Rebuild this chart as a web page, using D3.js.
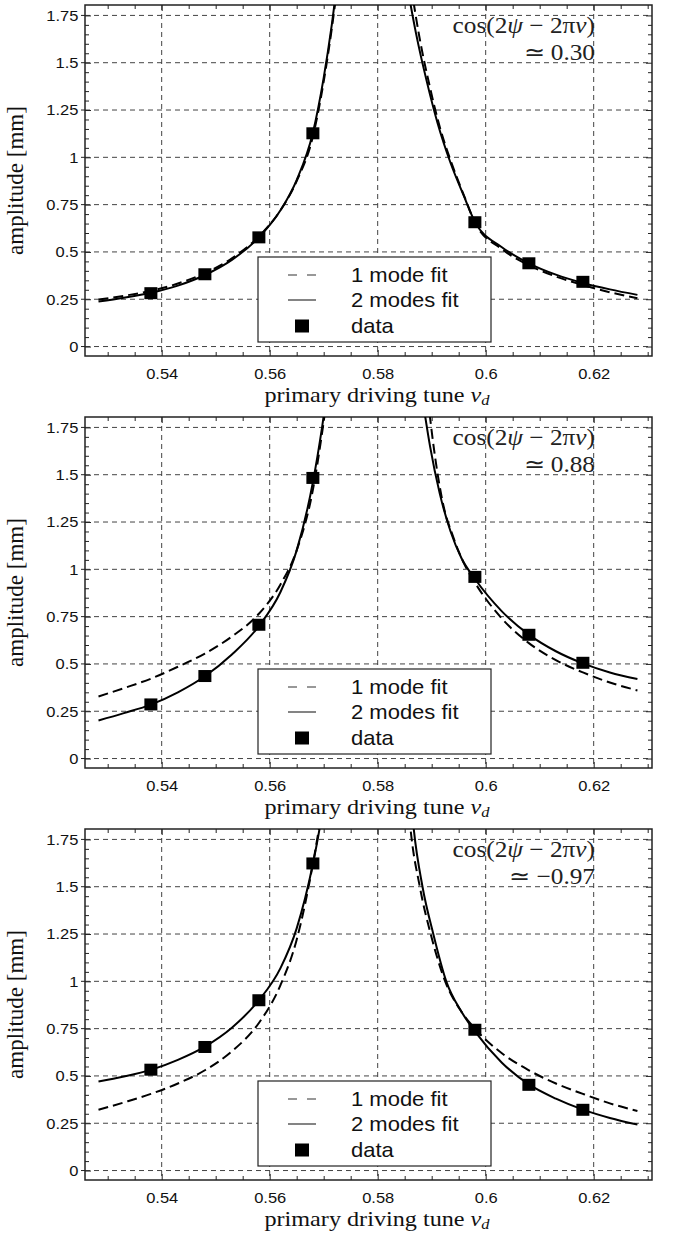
<!DOCTYPE html>
<html>
<head>
<meta charset="utf-8">
<script src="https://cdn.jsdelivr.net/npm/d3@7"></script>
<style>
  body { margin: 0; background: #fff; }
  svg { display: block; }
</style>
</head>
<body>
<div id="chart"></div>
<script>
// tick values / labels
const xTicks = [0.54, 0.56, 0.58, 0.6, 0.62]
const xTickLabels = ["0.54", "0.56", "0.58", "0.6", "0.62"]
const yTicks = [0, 0.25, 0.5, 0.75, 1, 1.25, 1.5, 1.75]
const yTickLabels = ["0", "0.25", "0.5", "0.75", "1", "1.25", "1.5", "1.75"]

// measured points (same tunes in every panel)
const dataTune = [0.538, 0.548, 0.558, 0.568, 0.598, 0.608, 0.618]
const dataAmpA = [0.282, 0.382, 0.577, 1.127, 0.657, 0.44, 0.342]
const dataAmpB = [0.286, 0.436, 0.707, 1.483, 0.96, 0.654, 0.506]
const dataAmpC = [0.533, 0.653, 0.90, 1.623, 0.744, 0.453, 0.321]

const cosValues = ["0.30", "0.88", "\u22120.97"]

// fit curves: [tune, amplitude]
const twoModeLeftA = [[0.5283,0.238],[0.533,0.258],[0.538,0.284],[0.543,0.322],[0.548,0.378],[0.553,0.458],[0.558,0.577],[0.562,0.72],[0.565,0.88],[0.568,1.13],[0.570,1.42],[0.5715,1.70],[0.5725,1.92]]
const oneModeLeftA = [[0.5283,0.248],[0.533,0.268],[0.538,0.294],[0.543,0.333],[0.548,0.388],[0.553,0.466],[0.558,0.582],[0.562,0.72],[0.565,0.875],[0.568,1.11],[0.570,1.40],[0.5715,1.68],[0.5726,1.92]]
const twoModeRightA = [[0.5855,1.9],[0.5871,1.655],[0.5891,1.40],[0.5911,1.18],[0.5935,0.97],[0.5959,0.80],[0.598,0.66],[0.603,0.525],[0.608,0.44],[0.613,0.38],[0.618,0.336],[0.623,0.302],[0.6281,0.273]]
const oneModeRightA = [[0.5862,1.9],[0.5877,1.64],[0.5896,1.38],[0.5915,1.16],[0.5938,0.96],[0.5961,0.79],[0.598,0.655],[0.603,0.515],[0.608,0.43],[0.613,0.37],[0.618,0.325],[0.623,0.287],[0.6281,0.255]]

const twoModeLeftB = [[0.5283,0.201],[0.533,0.24],[0.538,0.285],[0.543,0.35],[0.548,0.435],[0.553,0.55],[0.558,0.70],[0.562,0.88],[0.565,1.1],[0.568,1.46],[0.5697,1.75],[0.5707,1.95]]
const oneModeLeftB = [[0.5283,0.328],[0.533,0.372],[0.538,0.422],[0.543,0.485],[0.548,0.555],[0.553,0.645],[0.558,0.765],[0.562,0.92],[0.565,1.10],[0.568,1.42],[0.5697,1.72],[0.5708,1.95]]
const twoModeRightB = [[0.5883,1.9],[0.5897,1.65],[0.5915,1.40],[0.5935,1.20],[0.5955,1.06],[0.598,0.95],[0.603,0.778],[0.608,0.655],[0.613,0.567],[0.618,0.503],[0.623,0.455],[0.6281,0.42]]
const oneModeRightB = [[0.5893,1.9],[0.5905,1.62],[0.592,1.36],[0.594,1.17],[0.596,1.03],[0.598,0.93],[0.603,0.74],[0.608,0.61],[0.613,0.52],[0.618,0.455],[0.623,0.402],[0.6281,0.36]]

const twoModeLeftC = [[0.5283,0.471],[0.533,0.497],[0.538,0.532],[0.543,0.585],[0.548,0.655],[0.553,0.755],[0.558,0.90],[0.562,1.07],[0.565,1.28],[0.568,1.62],[0.5692,1.8],[0.5702,1.98]]
const oneModeLeftC = [[0.5283,0.321],[0.533,0.36],[0.538,0.405],[0.543,0.46],[0.548,0.53],[0.553,0.63],[0.558,0.78],[0.562,0.98],[0.565,1.22],[0.568,1.62],[0.5692,1.82],[0.5702,2.0]]
const twoModeRightC = [[0.5862,1.95],[0.5867,1.8],[0.5883,1.5],[0.5903,1.25],[0.5927,1.0],[0.5955,0.84],[0.598,0.735],[0.603,0.57],[0.608,0.455],[0.613,0.38],[0.618,0.322],[0.623,0.278],[0.6281,0.243]]
const oneModeRightC = [[0.5856,1.95],[0.5861,1.8],[0.5878,1.5],[0.590,1.23],[0.5925,1.0],[0.5955,0.84],[0.598,0.75],[0.603,0.62],[0.608,0.53],[0.613,0.46],[0.618,0.405],[0.623,0.355],[0.6281,0.315]]

const panels = [
  { amp: dataAmpA, cos: cosValues[0], one: [oneModeLeftA, oneModeRightA], two: [twoModeLeftA, twoModeRightA] },
  { amp: dataAmpB, cos: cosValues[1], one: [oneModeLeftB, oneModeRightB], two: [twoModeLeftB, twoModeRightB] },
  { amp: dataAmpC, cos: cosValues[2], one: [oneModeLeftC, oneModeRightC], two: [twoModeLeftC, twoModeRightC] }
]

const width = 678, height = 1233
const panelStep = 412
const plot = { left: 85, right: 652, top: 5, bottom: 356 }
const sans = '"Liberation Sans", Arial, Helvetica, sans-serif'
const serif = '"Liberation Serif", "Times New Roman", serif'
const SX = 1.1

const svg = d3.select('#chart').append('svg')
  .attr('width', width)
  .attr('height', height)

svg.append('defs').append('clipPath')
  .attr('id', 'clip')
  .append('rect')
    .attr('x', plot.left).attr('y', plot.top)
    .attr('width', plot.right - plot.left)
    .attr('height', plot.bottom - plot.top)

const x = d3.scaleLinear().domain([0.5258, 0.6308]).range([plot.left, plot.right])
const y = d3.scaleLinear().domain([-0.05, 1.805]).range([plot.bottom, plot.top])

const xMinor = d3.range(0.53, 0.631, 0.005).filter(v => xTicks.every(t => Math.abs(t - v) > 1e-6))
const yMinor = d3.range(0, 1.80, 0.05).filter(v => yTicks.every(t => Math.abs(t - v) > 1e-6))

const line = d3.line()
  .x(d => x(d[0]))
  .y(d => y(d[1]))
  .curve(d3.curveMonotoneX)

panels.forEach((p, i) => {
  const g = svg.append('g').attr('transform', 'translate(0,' + (i * panelStep) + ')')

  // grid
  g.append('g').selectAll('line').data(xTicks).enter().append('line')
    .attr('x1', d => x(d)).attr('x2', d => x(d))
    .attr('y1', plot.top).attr('y2', plot.bottom)
    .attr('stroke', '#444').attr('stroke-width', 1).attr('stroke-dasharray', '5,4')
  g.append('g').selectAll('line').data(yTicks).enter().append('line')
    .attr('x1', plot.left).attr('x2', plot.right)
    .attr('y1', d => y(d)).attr('y2', d => y(d))
    .attr('stroke', '#444').attr('stroke-width', 1).attr('stroke-dasharray', '5,4')

  // axes: major + minor ticks on all four sides
  const bottom = g.append('g').attr('transform', 'translate(0,' + plot.bottom + ')')
    .call(d3.axisBottom(x).tickValues(xTicks).tickFormat((d, j) => xTickLabels[j]).tickSizeInner(-6).tickSizeOuter(0).tickPadding(12))
  g.append('g').attr('transform', 'translate(0,' + plot.bottom + ')')
    .call(d3.axisBottom(x).tickValues(xMinor).tickFormat('').tickSizeInner(-4).tickSizeOuter(0))
  g.append('g').attr('transform', 'translate(0,' + plot.top + ')')
    .call(d3.axisTop(x).tickValues(xTicks).tickFormat('').tickSizeInner(-6).tickSizeOuter(0))
  g.append('g').attr('transform', 'translate(0,' + plot.top + ')')
    .call(d3.axisTop(x).tickValues(xMinor).tickFormat('').tickSizeInner(-4).tickSizeOuter(0))
  const left = g.append('g').attr('transform', 'translate(' + plot.left + ',0)')
    .call(d3.axisLeft(y).tickValues(yTicks).tickFormat((d, j) => yTickLabels[j]).tickSizeInner(-6).tickSizeOuter(0).tickPadding(6))
  g.append('g').attr('transform', 'translate(' + plot.left + ',0)')
    .call(d3.axisLeft(y).tickValues(yMinor).tickFormat('').tickSizeInner(-4).tickSizeOuter(0))
  g.append('g').attr('transform', 'translate(' + plot.right + ',0)')
    .call(d3.axisRight(y).tickValues(yTicks).tickFormat('').tickSizeInner(-6).tickSizeOuter(0))
  g.append('g').attr('transform', 'translate(' + plot.right + ',0)')
    .call(d3.axisRight(y).tickValues(yMinor).tickFormat('').tickSizeInner(-4).tickSizeOuter(0))

  g.selectAll('.domain').remove()
  g.selectAll('.tick line').attr('stroke', '#222').attr('stroke-width', 1)
  bottom.selectAll('text').attr('font-family', sans).attr('font-size', 15).attr('fill', '#111')
    .attr('transform', 'scale(' + SX + ',1)')
  left.selectAll('text').attr('font-family', sans).attr('font-size', 15).attr('fill', '#111')
    .attr('transform', 'scale(' + SX + ',1)')

  // outer stubs of major ticks
  g.append('g').selectAll('line').data(yTicks).enter().append('line')
    .attr('x1', plot.left - 4).attr('x2', plot.left)
    .attr('y1', d => y(d)).attr('y2', d => y(d))
    .attr('stroke', '#222')

  // frame
  g.append('rect')
    .attr('x', plot.left).attr('y', plot.top)
    .attr('width', plot.right - plot.left).attr('height', plot.bottom - plot.top)
    .attr('fill', 'none').attr('stroke', '#222').attr('stroke-width', 1.5)

  // fits
  const curves = g.append('g').attr('clip-path', 'url(#clip)')
  p.one.forEach(branch => {
    curves.append('path').datum(branch)
      .attr('d', line)
      .attr('fill', 'none').attr('stroke', '#000').attr('stroke-width', 2)
      .attr('stroke-dasharray', '10,5')
  })
  p.two.forEach(branch => {
    curves.append('path').datum(branch)
      .attr('d', line)
      .attr('fill', 'none').attr('stroke', '#000').attr('stroke-width', 2)
  })

  // data squares
  g.append('g').selectAll('rect').data(dataTune.map((t, j) => [t, p.amp[j]])).enter().append('rect')
    .attr('x', d => x(d[0]) - 6.5).attr('y', d => y(d[1]) - 6)
    .attr('width', 13).attr('height', 12)
    .attr('fill', '#000')

  // legend
  const lg = g.append('g')
  lg.append('rect')
    .attr('x', 258).attr('y', 257).attr('width', 233).attr('height', 85)
    .attr('fill', '#fff').attr('stroke', '#222').attr('stroke-width', 1.2)
  const rows = [275, 300, 326]
  lg.append('line').attr('x1', 288).attr('x2', 316).attr('y1', rows[0]).attr('y2', rows[0])
    .attr('stroke', '#333').attr('stroke-width', 1.2).attr('stroke-dasharray', '9,10')
  lg.append('line').attr('x1', 288).attr('x2', 316).attr('y1', rows[1]).attr('y2', rows[1])
    .attr('stroke', '#333').attr('stroke-width', 1.2)
  lg.append('rect').attr('x', 295).attr('y', rows[2] - 6.5).attr('width', 14).attr('height', 13).attr('fill', '#000')
  ;['1 mode fit', '2 modes fit', 'data'].forEach((t, j) => {
    lg.append('text')
      .attr('transform', 'translate(351,' + (rows[j] + 7) + ') scale(' + SX + ',1)')
      .attr('font-family', sans).attr('font-size', 20).attr('fill', '#111')
      .text(t)
  })

  // annotation
  const ann = g.append('text')
    .attr('transform', 'translate(595,33) scale(' + SX + ',1)')
    .attr('text-anchor', 'end')
    .attr('font-family', serif).attr('font-size', 23).attr('fill', '#222')
  ann.append('tspan').text('cos(2')
  ann.append('tspan').attr('font-style', 'italic').text('\u03c8')
  ann.append('tspan').text(' \u2212 2\u03c0')
  ann.append('tspan').attr('font-style', 'italic').text('\u03bd')
  ann.append('tspan').text(')')
  g.append('text')
    .attr('transform', 'translate(595,59.5) scale(' + SX + ',1)')
    .attr('text-anchor', 'end')
    .attr('font-family', serif).attr('font-size', 23).attr('fill', '#222')
    .text('\u2243 ' + p.cos)

  // axis titles
  const xt = g.append('text')
    .attr('transform', 'translate(377,402) scale(' + SX + ',1)')
    .attr('text-anchor', 'middle')
    .attr('font-family', serif).attr('font-size', 22).attr('fill', '#111')
  xt.append('tspan').text('primary driving tune ')
  xt.append('tspan').attr('font-style', 'italic').text('\u03bd')
  xt.append('tspan').attr('font-style', 'italic').attr('font-size', 15).attr('dy', 3).text('d')

  g.append('text')
    .attr('transform', 'translate(23,180.5) rotate(-90)')
    .attr('text-anchor', 'middle')
    .attr('font-family', serif).attr('font-size', 23).attr('fill', '#111')
    .text('amplitude [mm]')
})
</script>
</body>
</html>
